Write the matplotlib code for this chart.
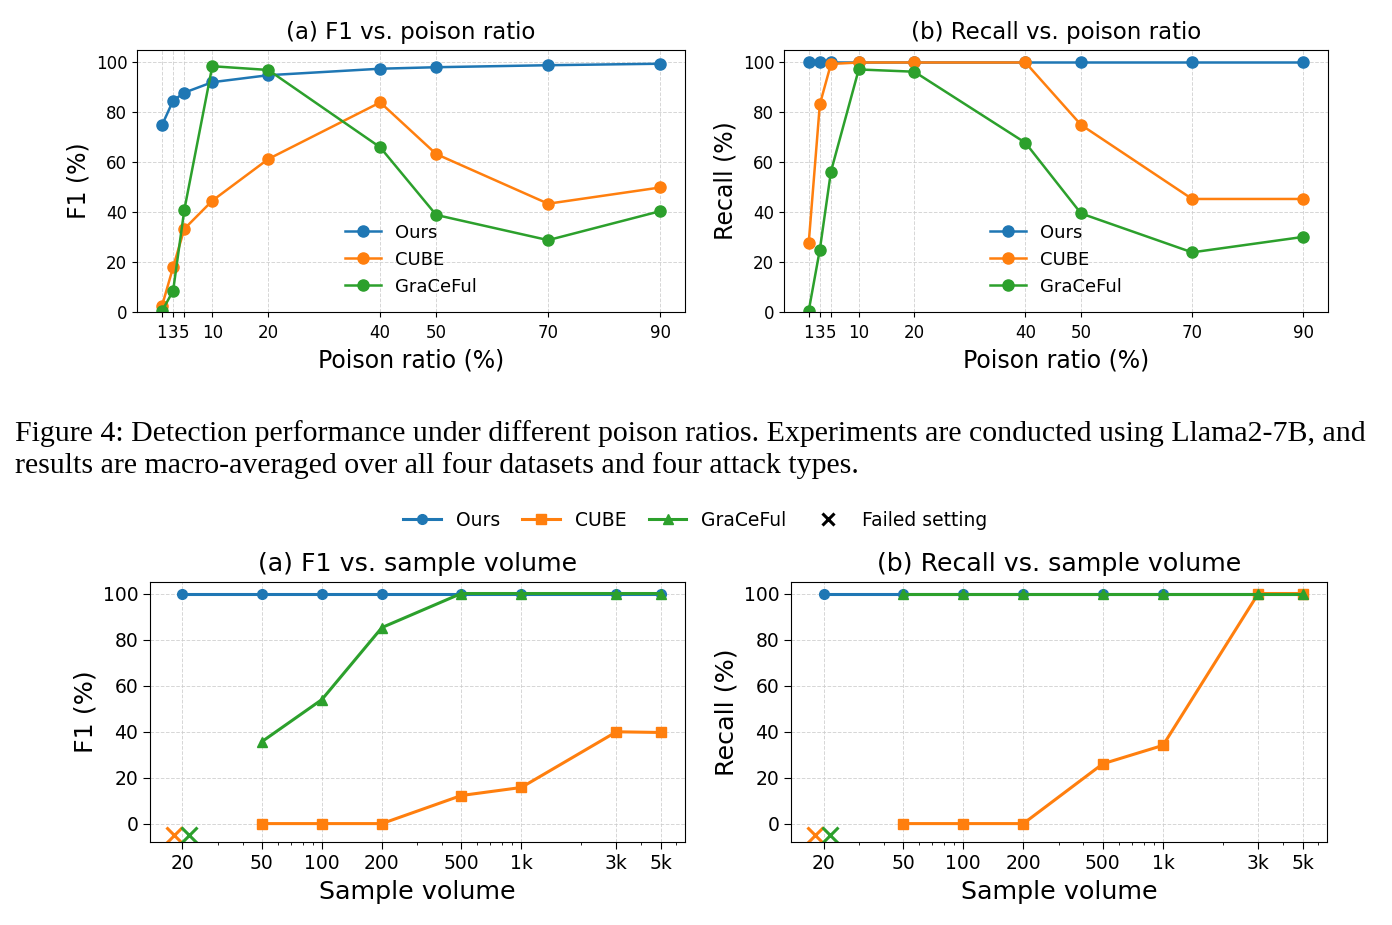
import numpy as np
import matplotlib
matplotlib.use("Agg")
import matplotlib.pyplot as plt
from matplotlib.lines import Line2D
from matplotlib.ticker import FixedLocator, FixedFormatter, NullFormatter

# poison ratio experiment
ratios = [1, 3, 5, 10, 20, 40, 50, 70, 90]
f1_ours = [74.8, 84.7, 87.9, 92.1, 94.9, 97.5, 98.1, 98.9, 99.5]
f1_cube = [2.3, 17.9, 33.3, 44.6, 61.3, 84.0, 63.3, 43.4, 49.9]
f1_graceful = [0.3, 8.5, 40.9, 98.5, 97.0, 66.0, 38.9, 28.8, 40.4]
rec_ours = [100, 100, 100, 100, 100, 100, 100, 100, 100]
rec_cube = [27.7, 83.2, 99.4, 100, 100, 100, 75.0, 45.3, 45.3]
rec_graceful = [0.5, 25.0, 56.3, 97.2, 96.3, 67.8, 39.5, 23.9, 30.1]

# sample volume experiment (nan = failed setting)
volumes = [20, 50, 100, 200, 500, 1000, 3000, 5000]
vol_labels = ["20", "50", "100", "200", "500", "1k", "3k", "5k"]
vf1_ours = [100, 100, 100, 100, 100, 100, 100, 100]
vf1_cube = [np.nan, 0, 0, 0, 12.2, 15.7, 39.9, 39.6]
vf1_graceful = [np.nan, 35.6, 53.9, 85.2, 100, 100, 100, 100]
vrec_ours = [100, 100, 100, 100, 100, 100, 100, 100]
vrec_cube = [np.nan, 0, 0, 0, 26.0, 34.0, 100, 100]
vrec_graceful = [np.nan, 100, 100, 100, 100, 100, 100, 100]
fail_x = [18.2, 21.6]
fail_y = -5

c_ours, c_cube, c_grace = "#1f77b4", "#ff7f0e", "#2ca02c"

fig = plt.figure(figsize=(13.92, 9.25), dpi=100)
W, H = 1392, 925

def box(l, t, r, b):
    return [l / W, 1 - b / H, (r - l) / W, (b - t) / H]

ax1 = fig.add_axes(box(137, 50, 685, 312))
ax2 = fig.add_axes(box(784, 50, 1328, 312))
ax3 = fig.add_axes(box(150, 582, 685, 842))
ax4 = fig.add_axes(box(791, 582, 1327, 842))

for ax, ours, cube, grace, yl, title in [
        (ax1, f1_ours, f1_cube, f1_graceful, "F1 (%)", "(a) F1 vs. poison ratio"),
        (ax2, rec_ours, rec_cube, rec_graceful, "Recall (%)", "(b) Recall vs. poison ratio")]:
    ax.plot(ratios, ours, "-o", color=c_ours, lw=1.8, ms=8, label="Ours")
    ax.plot(ratios, cube, "-o", color=c_cube, lw=1.8, ms=8, label="CUBE")
    ax.plot(ratios, grace, "-o", color=c_grace, lw=1.8, ms=8, label="GraCeFul")
    ax.set_xticks(ratios)
    ax.set_xticklabels([str(r) for r in ratios])
    ax.set_ylim(0, 105)
    ax.set_yticks([0, 20, 40, 60, 80, 100])
    ax.grid(True, ls="--", lw=0.7, color="#cccccc", alpha=0.8)
    ax.tick_params(labelsize=12)
    ax.tick_params(axis="x", pad=5)
    ax.set_xlabel("Poison ratio (%)", fontsize=17, labelpad=5)
    ax.set_ylabel(yl, fontsize=17)
    ax.set_title(title, fontsize=16.5, pad=8)
    ax.legend(loc="lower center", frameon=False, fontsize=13)

for ax, ours, cube, grace, yl, title in [
        (ax3, vf1_ours, vf1_cube, vf1_graceful, "F1 (%)", "(a) F1 vs. sample volume"),
        (ax4, vrec_ours, vrec_cube, vrec_graceful, "Recall (%)", "(b) Recall vs. sample volume")]:
    ax.plot(volumes, ours, "-o", color=c_ours, lw=2.2, ms=7)
    ax.plot(volumes, cube, "-s", color=c_cube, lw=2.2, ms=7)
    ax.plot(volumes, grace, "-^", color=c_grace, lw=2.2, ms=7)
    ax.plot(fail_x[0], fail_y, "x", color=c_cube, ms=11, mew=2.2)
    ax.plot(fail_x[1], fail_y, "x", color=c_grace, ms=11, mew=2.2)
    ax.set_xscale("log")
    ax.xaxis.set_major_locator(FixedLocator(volumes))
    ax.xaxis.set_major_formatter(FixedFormatter(vol_labels))
    ax.xaxis.set_minor_formatter(NullFormatter())
    ax.set_ylim(-8, 105)
    ax.set_yticks([0, 20, 40, 60, 80, 100])
    ax.grid(True, which="major", ls="--", lw=0.7, color="#cccccc", alpha=0.8)
    ax.tick_params(labelsize=13.5, length=5)
    ax.set_xlabel("Sample volume", fontsize=18.3, labelpad=5)
    ax.set_ylabel(yl, fontsize=18.3)
    ax.set_title(title, fontsize=18.2, pad=8)

handles = [
    Line2D([], [], color=c_ours, marker="o", lw=2.2, ms=7, label="Ours"),
    Line2D([], [], color=c_cube, marker="s", lw=2.2, ms=7, label="CUBE"),
    Line2D([], [], color=c_grace, marker="^", lw=2.2, ms=7, label="GraCeFul"),
    Line2D([], [], color="black", marker="x", lw=0, ms=9, mew=2.2, label="Failed setting"),
]
fig.legend(handles=handles, loc="center", bbox_to_anchor=(695 / W, 1 - 520 / H),
           ncol=4, frameon=False, fontsize=13.5, handlelength=2, columnspacing=1.2)

cap1 = ("Figure 4: Detection performance under different poison ratios. "
        "Experiments are conducted using Llama2-7B, and")
cap2 = "results are macro-averaged over all four datasets and four attack types."
fig.text(15 / W, 1 - 441 / H, cap1, fontsize=21.5, family="Liberation Serif",
         va="baseline", ha="left")
fig.text(15 / W, 1 - 473 / H, cap2, fontsize=21.5, family="Liberation Serif",
         va="baseline", ha="left")

fig.savefig("out.png", dpi=100)
